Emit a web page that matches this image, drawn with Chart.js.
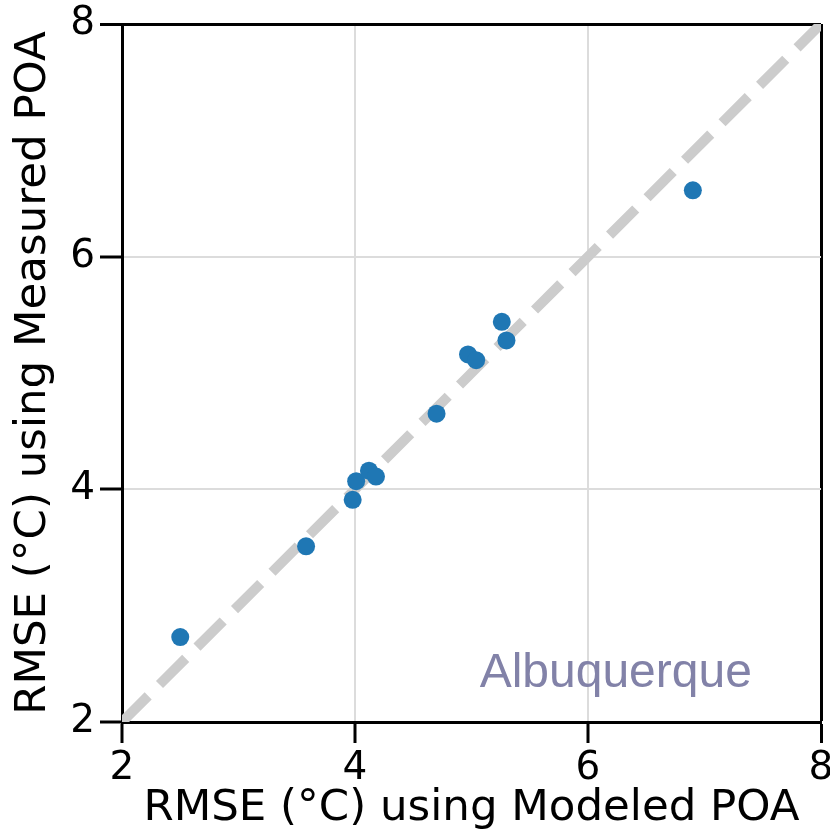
<!DOCTYPE html>
<html>
<head>
<meta charset="utf-8">
<script src="https://cdn.jsdelivr.net/npm/chart.js@4.4.1/dist/chart.umd.min.js"></script>
<style>
html,body{margin:0;padding:0;background:#fff;}
#wrap{width:830px;height:838px;position:relative;}
</style>
</head>
<body>
<div id="wrap"><canvas id="c" width="830" height="838"></canvas></div>
<script>
// Data
const modeledRMSE = [2.50, 3.58, 3.98, 4.01, 4.12, 4.18, 4.70, 4.97, 5.04, 5.26, 5.30, 6.90];
const measuredRMSE = [2.73, 3.51, 3.91, 4.07, 4.16, 4.11, 4.65, 5.16, 5.11, 5.44, 5.28, 6.57];
const diagX = [2, 8];
const diagY = [2, 8];
const tickValues = [2, 4, 6, 8];
const xTitle = 'RMSE (°C) using Modeled POA';
const yTitle = 'RMSE (°C) using Measured POA';
const siteName = 'Albuquerque';
const siteX = 5.07;
const siteY = 2.30;

const pts = modeledRMSE.map((x, i) => ({x: x, y: measuredRMSE[i]}));
const diag = diagX.map((x, i) => ({x: x, y: diagY[i]}));

const gridColor = (ctx) => (ctx.tick && ctx.tick.value === 8) ? '#000000' : '#dcdcdc';
const gridWidth = (ctx) => (ctx.tick && ctx.tick.value === 8) ? 3 : 2;

const annotationPlugin = {
  id: 'siteLabel',
  afterDatasetsDraw(chart) {
    const {ctx, scales} = chart;
    const px = scales.x.getPixelForValue(siteX);
    const py = scales.y.getPixelForValue(siteY);
    ctx.save();
    ctx.font = '48px "Liberation Sans", Arial, sans-serif';
    ctx.fillStyle = '#8282a8';
    ctx.textAlign = 'left';
    ctx.textBaseline = 'alphabetic';
    ctx.fillText(siteName, px, py);
    ctx.restore();
  }
};

new Chart(document.getElementById('c'), {
  type: 'scatter',
  data: {
    datasets: [
      {
        data: pts,
        order: 1,
        backgroundColor: '#1f77b4',
        borderColor: '#1f77b4',
        borderWidth: 0,
        pointRadius: 9,
        pointHoverRadius: 9
      },
      {
        type: 'line',
        data: diag,
        order: 2,
        borderColor: '#cccccc',
        borderWidth: 10,
        borderDash: [37, 16],
        borderCapStyle: 'butt',
        pointRadius: 0,
        fill: false,
        tension: 0
      }
    ]
  },
  options: {
    responsive: false,
    devicePixelRatio: 1,
    animation: false,
    layout: {padding: {top: 24, right: 8, left: 0, bottom: 0}},
    plugins: {legend: {display: false}, tooltip: {enabled: false}},
    scales: {
      x: {
        type: 'linear',
        min: 2, max: 8,
        afterBuildTicks: (s) => { s.ticks = tickValues.map(v => ({value: v})); },
        afterFit: (s) => { s.height = 116; s.paddingLeft = 0; s.paddingRight = 0; },
        grid: {color: gridColor, lineWidth: gridWidth, tickColor: '#000', tickWidth: 3, tickLength: 21, drawTicks: true},
        border: {display: true, color: '#000', width: 3},
        ticks: {
          color: '#000', padding: 2, maxRotation: 0, minRotation: 0,
          font: {family: '"DejaVu Sans"', size: 39},
          callback: (v) => String(v)
        },
        title: {
          display: true, text: xTitle, color: '#000',
          font: {family: '"DejaVu Sans"', size: 43.5, lineHeight: 1.2},
          padding: {top: 0, bottom: 3}
        }
      },
      y: {
        type: 'linear',
        min: 2, max: 8,
        afterBuildTicks: (s) => { s.ticks = tickValues.map(v => ({value: v})); },
        afterFit: (s) => { s.width = 122; s.paddingTop = 0; s.paddingBottom = 0; },
        grid: {color: gridColor, lineWidth: gridWidth, tickColor: '#000', tickWidth: 3, tickLength: 22, drawTicks: true},
        border: {display: true, color: '#000', width: 3},
        ticks: {
          color: '#000', padding: 5, minRotation: 0, maxRotation: 0, crossAlign: 'near',
          font: {family: '"DejaVu Sans"', size: 39},
          callback: (v) => String(v)
        },
        title: {
          display: true, text: yTitle, color: '#000',
          font: {family: '"DejaVu Sans"', size: 43.5, lineHeight: 1.2},
          padding: {top: 8, bottom: 0}
        }
      }
    }
  },
  plugins: [annotationPlugin]
});
</script>
</body>
</html>
